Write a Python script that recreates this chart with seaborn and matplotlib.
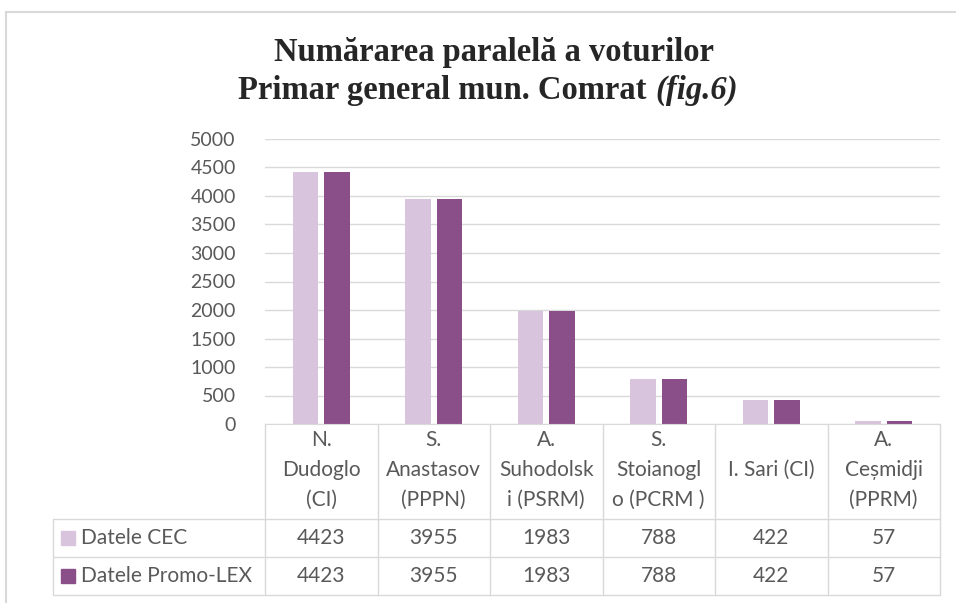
import pandas as pd
import seaborn as sns
import matplotlib.pyplot as plt
from matplotlib.transforms import blended_transform_factory

# data
candidates = ["N.\nDudoglo\n(CI)", "S.\nAnastasov\n(PPPN)", "A.\nSuhodolsk\ni (PSRM)",
              "S.\nStoianogl\no (PCRM )", "I. Sari (CI)", "A.\nCeșmidji\n(PPRM)"]
series_names = ["Datele CEC", "Datele Promo-LEX"]
votes_cec = [4423, 3955, 1983, 788, 422, 57]
votes_promolex = [4423, 3955, 1983, 788, 422, 57]
colors = ["#D8C4DC", "#8A4F89"]

df = pd.DataFrame({
    "cand": candidates * 2,
    "votes": votes_cec + votes_promolex,
    "source": [series_names[0]] * 6 + [series_names[1]] * 6,
})

sns.set_style("white")
plt.rcParams["font.family"] = ["Lato", "DejaVu Sans"]
grey = "#595959"
line_c = "#D9D9D9"
tfs = 15  # table font size

W, H = 956, 603
fig = plt.figure(figsize=(W / 100, H / 100), dpi=100)
# axes box in pixel coords: x 265..940, y 139..424
ax = fig.add_axes([265 / W, 1 - 424 / H, 675 / W, 285 / H])

sns.barplot(data=df, x="cand", y="votes", hue="source", palette=colors,
            saturation=1, width=0.565, gap=0.2, linewidth=0, legend=False,
            ax=ax)

ax.set_ylim(0, 5000)
ax.set_xlim(-0.5, len(candidates) - 0.5)
ax.set_yticks(range(0, 5001, 500))
ax.yaxis.grid(True, color=line_c, linewidth=1)
ax.set_axisbelow(True)
for s in ["top", "right", "left"]:
    ax.spines[s].set_visible(False)
ax.spines["bottom"].set_color(line_c)
ax.tick_params(axis="y", length=0, labelsize=14, labelcolor=grey, pad=21)
ax.set_xticks([])
ax.set_xlabel("")
ax.set_ylabel("")

# data table under the axes
tr = blended_transform_factory(ax.transData, ax.transAxes)
n = len(candidates)
px = 285.0
y_head = -95 / px
y_r1 = -133 / px
y_r2 = -171 / px
x_left = -0.5 - 212 / 112.5
kw = dict(transform=tr, clip_on=False, color=line_c, linewidth=1)
for i in range(n + 1):
    ax.plot([i - 0.5, i - 0.5], [0, y_r2], **kw)
ax.plot([x_left, x_left], [y_head, y_r2], **kw)
for yy in [y_head, y_r1, y_r2]:
    ax.plot([x_left, n - 0.5], [yy, yy], **kw)

for i, lab in enumerate(candidates):
    ax.text(i, y_head / 2 + 0.005, lab, transform=tr, ha="center",
            va="center", fontsize=tfs, color=grey, linespacing=1.6)
    ax.text(i, (y_head + y_r1) / 2, str(votes_cec[i]), transform=tr,
            ha="center", va="center", fontsize=tfs, color=grey)
    ax.text(i, (y_r1 + y_r2) / 2, str(votes_promolex[i]), transform=tr,
            ha="center", va="center", fontsize=tfs, color=grey)

for yc, name, c in [((y_head + y_r1) / 2, series_names[0], colors[0]),
                    ((y_r1 + y_r2) / 2, series_names[1], colors[1])]:
    ax.plot([x_left + 0.13], [yc], marker="s", markersize=9.5, color=c,
            transform=tr, clip_on=False, linestyle="none")
    ax.text(x_left + 0.25, yc, name, transform=tr, ha="left", va="center",
            fontsize=tfs, color=grey)

# title
title_fs = 23.5
fig.text(494 / W, 1 - 52 / H, "Numărarea paralelă a voturilor", ha="center",
         va="center", fontsize=title_fs, fontweight="bold",
         family="Liberation Serif")
renderer = fig.canvas.get_renderer()
t1 = fig.text(0, 1 - 90 / H, "Primar general mun. Comrat ", ha="left",
              va="center", fontsize=title_fs, fontweight="bold",
              family="Liberation Serif")
t2 = fig.text(0, 1 - 90 / H, "(fig.6)", ha="left", va="center",
              fontsize=title_fs, fontweight="bold", style="italic",
              family="Liberation Serif")
w1 = t1.get_window_extent(renderer).width
w2 = t2.get_window_extent(renderer).width
x0 = 488 - (w1 + w2) / 2
t1.set_x(x0 / W)
t2.set_x((x0 + w1) / W)

# chart area border (partly outside the picture)
fig.add_artist(plt.Rectangle((6 / W, -0.05), 1.1, 1 - 12 / H + 0.05,
                             transform=fig.transFigure, fill=False,
                             edgecolor="#D9D9D9", linewidth=1.5))

fig.savefig("out.png", dpi=100)
